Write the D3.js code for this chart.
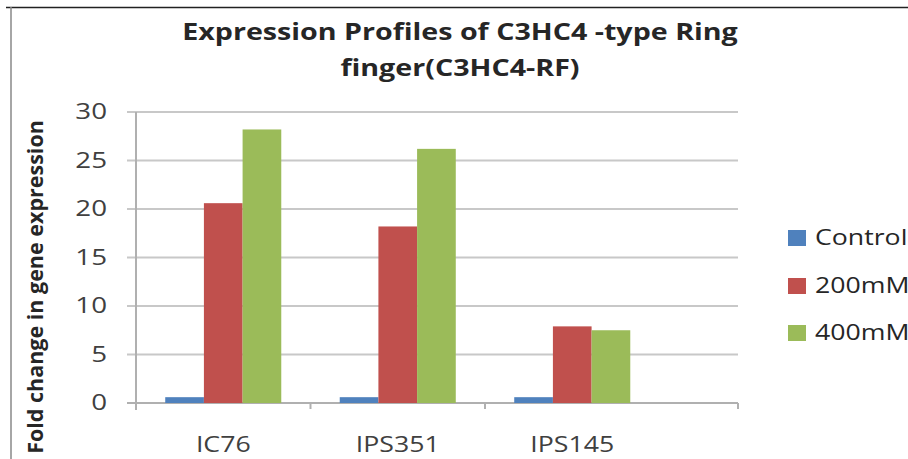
<!DOCTYPE html>
<html>
<head>
<meta charset="utf-8">
<script src="https://cdn.jsdelivr.net/npm/d3@7"></script>
<style>
body { margin: 0; background: #fff; }
text { font-family: "Open Sans", Lato, sans-serif; }
</style>
</head>
<body>
<div id="chart"></div>
<script>
var categories = ["IC76", "IPS351", "IPS145"];
var seriesNames = ["Control", "200mM", "400mM"];
var control = [0.6, 0.6, 0.6];
var mM200 = [20.6, 18.2, 7.9];
var mM400 = [28.2, 26.2, 7.5];
var yTicks = [0, 5, 10, 15, 20, 25, 30];
var colors = ["#4F81BD", "#C0504D", "#9BBB59"];

var w = 908, h = 459;
var plotLeft = 136, plotTop = 112, plotBottom = 403;
var catW = 174.5;          // width of one category slot
var axisEnd = 738;         // grid and axis run further than the slots
var sx = 1.27;             // the picture is stretched sideways, so is the text

var svg = d3.select("#chart").append("svg").attr("width", w).attr("height", h);
svg.append("rect").attr("width", w).attr("height", h).attr("fill", "#fff");

// puts a text at x,y and widens it
function place(sel, fx, fy, s) {
    sel.attr("transform", function (d, i) {
        return "translate(" + fx(d, i) + "," + fy(d, i) + ") scale(" + (s || sx) + ",1)";
    });
    return sel;
}

// frame of the chart area
svg.append("line").attr("x1", 6).attr("x2", w).attr("y1", 7.5).attr("y2", 7.5)
    .attr("stroke", "#222").attr("stroke-width", 1.5);
svg.append("line").attr("x1", 11).attr("x2", 11).attr("y1", 7).attr("y2", h)
    .attr("stroke", "#888").attr("stroke-width", 1.5);

var y = d3.scaleLinear().domain([0, 30]).range([plotBottom, plotTop]);
var x0 = d3.scaleBand().domain(categories).range([plotLeft, plotLeft + catW * categories.length])
    .paddingInner(0.335).paddingOuter(0.1675);
var x1 = d3.scaleBand().domain(seriesNames).range([0, x0.bandwidth()]);

// gridlines
svg.append("g").selectAll("line").data(yTicks).enter().append("line")
    .attr("x1", 127).attr("x2", axisEnd)
    .attr("y1", function (d) { return y(d); })
    .attr("y2", function (d) { return y(d); })
    .attr("stroke", function (d) { return d == 0 ? "#b0b0b0" : "#c8c8c8"; })
    .attr("stroke-width", 2);

// y axis line
svg.append("line").attr("x1", plotLeft).attr("x2", plotLeft).attr("y1", plotTop).attr("y2", 410)
    .attr("stroke", "#b0b0b0").attr("stroke-width", 2);

// category ticks
var tickX = [plotLeft + catW, plotLeft + 2 * catW, axisEnd];
svg.append("g").selectAll("line").data(tickX).enter().append("line")
    .attr("x1", function (d) { return d; }).attr("x2", function (d) { return d; })
    .attr("y1", plotBottom).attr("y2", 409)
    .attr("stroke", "#b0b0b0").attr("stroke-width", 2);

// y tick labels
var yl = svg.append("g").selectAll("text").data(yTicks).enter().append("text")
    .attr("dy", "0.35em").attr("text-anchor", "end")
    .attr("font-size", 21).attr("fill", "#404040")
    .text(function (d) { return d; });
place(yl, function () { return 107; }, function (d) { return y(d); }, 1.32);

// bars
var series = [control, mM200, mM400];
var groups = svg.append("g").selectAll("g").data(categories).enter().append("g")
    .attr("transform", function (d) { return "translate(" + x0(d) + ",0)"; });
groups.selectAll("rect").data(function (d, i) {
        return series.map(function (s, j) { return { name: seriesNames[j], v: s[i], c: colors[j] }; });
    }).enter().append("rect")
    .attr("x", function (d) { return x1(d.name); })
    .attr("width", x1.bandwidth())
    .attr("y", function (d) { return y(d.v); })
    .attr("height", function (d) { return plotBottom - y(d.v); })
    .attr("fill", function (d) { return d.c; });

// category labels
var xl = svg.append("g").selectAll("text").data(categories).enter().append("text")
    .attr("dy", "0.35em").attr("text-anchor", "middle")
    .attr("font-size", 21).attr("fill", "#404040")
    .text(function (d) { return d; });
place(xl, function (d) { return x0(d) + x0.bandwidth() / 2; }, function () { return 445; });

// title
var t1 = svg.append("text").attr("dy", "0.35em")
    .attr("text-anchor", "middle").attr("font-size", 23).attr("font-weight", "bold")
    .attr("fill", "#262626").text("Expression Profiles of C3HC4 -type Ring");
place(t1, function () { return 460; }, function () { return 32; }, 1.245);
var t2 = svg.append("text").attr("dy", "0.35em")
    .attr("text-anchor", "middle").attr("font-size", 23).attr("font-weight", "bold")
    .attr("fill", "#262626").text("finger(C3HC4-RF)");
place(t2, function () { return 460; }, function () { return 68; }, 1.245);

// y axis title
svg.append("text").attr("transform", "translate(35,287) rotate(-90)")
    .attr("dy", "0.35em").attr("text-anchor", "middle")
    .attr("font-size", 21.5).attr("font-weight", "bold").attr("fill", "#262626")
    .text("Fold change in gene expression");

// legend
var legY = [238, 286, 333];
var leg = svg.append("g").selectAll("g").data(seriesNames).enter().append("g")
    .attr("transform", function (d, i) { return "translate(788," + legY[i] + ")"; });
leg.append("rect").attr("x", 0).attr("y", -8).attr("width", 18).attr("height", 16)
    .attr("fill", function (d, i) { return colors[i]; });
var lt = leg.append("text").attr("dy", "0.35em")
    .attr("font-size", 21).attr("fill", "#262626")
    .text(function (d) { return d; });
place(lt, function () { return 27; }, function () { return 0; });
</script>
</body>
</html>
